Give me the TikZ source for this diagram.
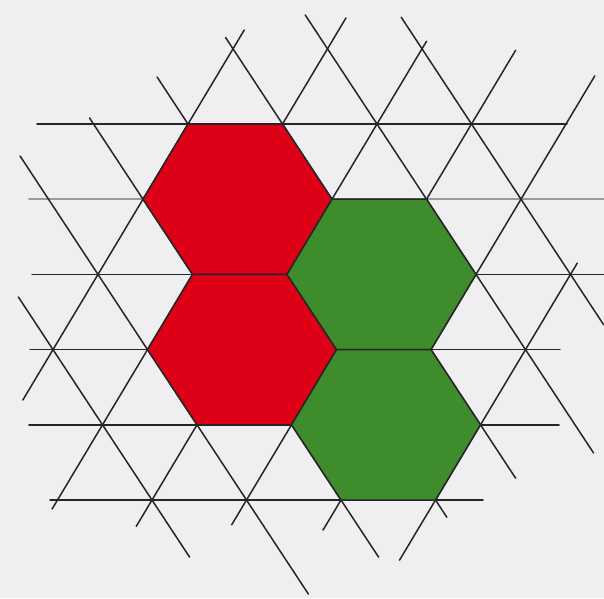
\documentclass[tikz,border=0pt]{standalone}
\definecolor{bgc}{RGB}{239,239,241}
\definecolor{hred}{RGB}{222,0,22}
\definecolor{hgreen}{RGB}{62,140,44}
\tikzset{
  gridline/.style={line width=1.5pt, draw=black!85, line cap=round},
  grayline/.style={line width=1.6pt, draw=black!40, line cap=round},
  hexcell/.style={line width=1.5pt, draw=black!85, line join=round},
}
\begin{document}
\begin{tikzpicture}[x=1pt,y=-1pt]
\useasboundingbox (0,0) rectangle (604,598);
\fill[bgc] (0,0) rectangle (604,598);
\begin{scope}[shift={(188,124)}, x={(94.5pt,0pt)}, y={(49.5pt,-75.2pt)}]
  % horizontal lines
  \draw[gridline] (-1.598,0) -- (4.01,0);
  \draw[grayline] (-2.206,1) -- (3.878,1);
  \draw[gridline] (-2.698,2) -- (3.354,2);
  \draw[gridline] (-3.243,3) -- (2.365,3);
  \draw[gridline] (-3.778,4) -- (1.831,4);
  \draw[gridline] (-4.079,5) -- (0.503,5);
  % down-right diagonals (constant m)
  \draw[gridline] (-2,0.426) -- (-2,6.25);
  \draw[gridline] (-1,-0.08) -- (-1,5.76);
  \draw[gridline] (-3,2.3) -- (-3,5.76);
  \draw[gridline] (0,-0.625) -- (0,5.23);
  \draw[gridline] (1,-1.15) -- (1,4.71);
  \draw[gridline] (2,-1.45) -- (2,4.375);
  \draw[gridline] (3,-1.42) -- (3,2.67);
  % up-right diagonals (constant m+j)
  \draw[gridline] (1.25,-1.25) -- (-3.67,3.67);
  \draw[gridline] (2.41,-1.41) -- (-4.12,5.12);
  \draw[gridline] (3.10,-1.10) -- (-3.35,5.35);
  \draw[gridline] (3.98,-0.98) -- (-2.33,5.33);
  \draw[gridline] (4.64,-0.64) -- (-1.4,5.4);
  \draw[gridline] (3.15,1.85) -- (-0.8,5.8);
  % hexagons
  \filldraw[hexcell, fill=hred] (1,1) -- (0,2) -- (-1,2) -- (-1,1) -- (0,0) -- (1,0) -- cycle;
  \filldraw[hexcell, fill=hred] (0,3) -- (-1,4) -- (-2,4) -- (-2,3) -- (-1,2) -- (0,2) -- cycle;
  \filldraw[hexcell, fill=hgreen] (2,2) -- (1,3) -- (0,3) -- (0,2) -- (1,1) -- (2,1) -- cycle;
  \filldraw[hexcell, fill=hgreen] (1,4) -- (0,5) -- (-1,5) -- (-1,4) -- (0,3) -- (1,3) -- cycle;
\end{scope}
\end{tikzpicture}
\end{document}
